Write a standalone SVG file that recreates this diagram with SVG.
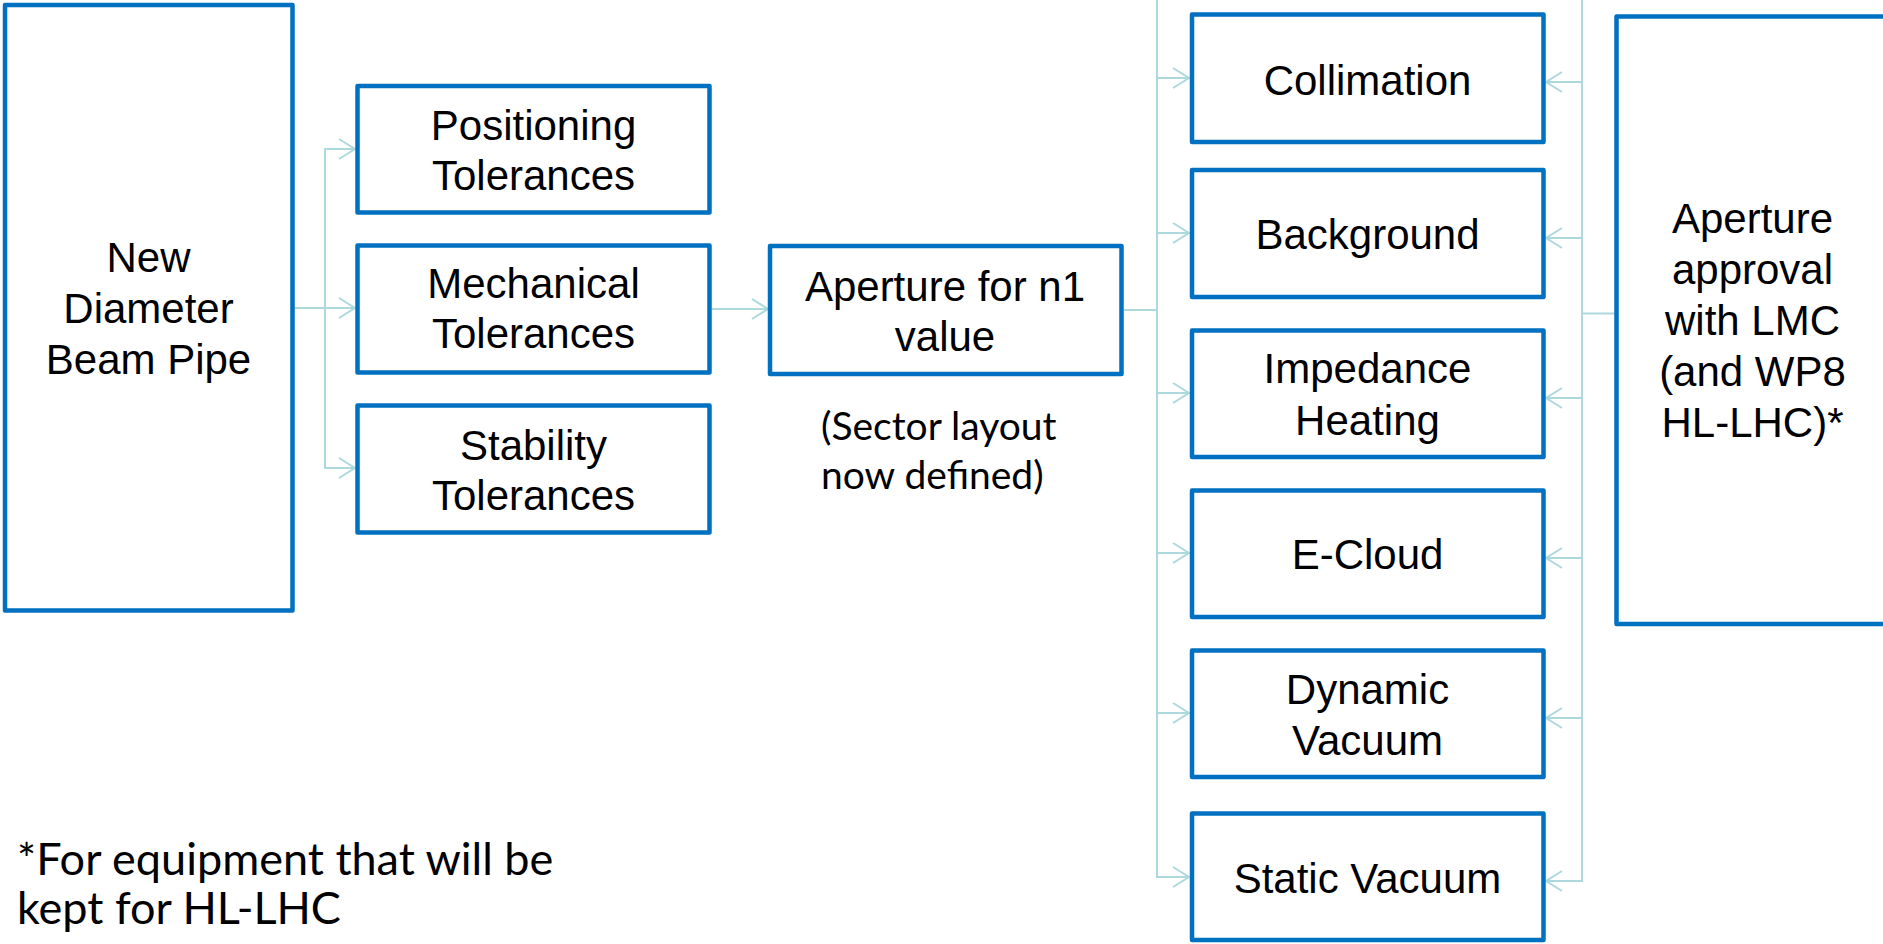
<svg xmlns="http://www.w3.org/2000/svg" width="1883" height="944" viewBox="0 0 1883 944">
<style>
.box{fill:#ffffff;stroke:#0070C0;stroke-width:4.5;stroke-linejoin:round}
.lbl{font-family:"Liberation Sans",Arial,sans-serif;font-size:42px;fill:#000000;text-anchor:middle}
.note{font-family:Lato,"Open Sans",sans-serif;fill:#000000}
.con{fill:none;stroke:#ADD8DC;stroke-width:2}
</style>
<defs>
<marker id="arr" markerUnits="userSpaceOnUse" markerWidth="20" markerHeight="24" viewBox="0 0 20 24" refX="18" refY="12" orient="auto">
<path d="M2,2 L18,12 L2,22" fill="none" stroke="#ADD8DC" stroke-width="2"/>
</marker>
</defs>
<rect width="1883" height="944" fill="#ffffff"/>
<g id="connectors">
<path class="con" d="M292,308 H325 V149 H355" marker-end="url(#arr)"/>
<path class="con" d="M292,308 H355" marker-end="url(#arr)"/>
<path class="con" d="M325,308 V468 H355" marker-end="url(#arr)"/>
<path class="con" d="M712,309 H768" marker-end="url(#arr)"/>
<path class="con" d="M1157,0 V78"/>
<path class="con" d="M1124,310 H1157 V78 H1189" marker-end="url(#arr)"/>
<path class="con" d="M1157,310 V233 H1189" marker-end="url(#arr)"/>
<path class="con" d="M1157,310 V393 H1189" marker-end="url(#arr)"/>
<path class="con" d="M1157,310 V553 H1189" marker-end="url(#arr)"/>
<path class="con" d="M1157,310 V713 H1189" marker-end="url(#arr)"/>
<path class="con" d="M1157,310 V877 H1189" marker-end="url(#arr)"/>
<path class="con" d="M1582,0 V82"/>
<path class="con" d="M1616,313.5 H1582 V82 H1546" marker-end="url(#arr)"/>
<path class="con" d="M1582,313.5 V238 H1546" marker-end="url(#arr)"/>
<path class="con" d="M1582,313.5 V398 H1546" marker-end="url(#arr)"/>
<path class="con" d="M1582,313.5 V558 H1546" marker-end="url(#arr)"/>
<path class="con" d="M1582,313.5 V718 H1546" marker-end="url(#arr)"/>
<path class="con" d="M1582,313.5 V881 H1546" marker-end="url(#arr)"/>
</g>
<g id="new-diameter">
<rect class="box" x="5" y="5" width="287.5" height="605.5"/>
<text class="lbl" x="148.5" y="272">New</text>
<text class="lbl" x="148.5" y="323">Diameter</text>
<text class="lbl" x="148.5" y="374">Beam Pipe</text>
</g>
<g id="positioning">
<rect class="box" x="357.5" y="86" width="352" height="126.5"/>
<text class="lbl" x="533.5" y="140">Positioning</text>
<text class="lbl" x="533.5" y="190">Tolerances</text>
</g>
<g id="mechanical">
<rect class="box" x="357.5" y="245.5" width="352" height="127"/>
<text class="lbl" x="533.5" y="298">Mechanical</text>
<text class="lbl" x="533.5" y="348">Tolerances</text>
</g>
<g id="stability">
<rect class="box" x="357.5" y="405.5" width="352" height="127"/>
<text class="lbl" x="533.5" y="460">Stability</text>
<text class="lbl" x="533.5" y="510">Tolerances</text>
</g>
<g id="aperture-n1">
<rect class="box" x="770" y="246" width="351.5" height="128"/>
<text class="lbl" x="945" y="300.5">Aperture for n1</text>
<text class="lbl" x="945" y="350.5">value</text>
</g>
<g id="sector-note">
<text class="note" font-size="39" x="821" y="440">(Sector layout</text>
<text class="note" font-size="39" x="821" y="489">now defined)</text>
</g>
<g id="collimation">
<rect class="box" x="1192" y="14.5" width="351.5" height="127.5"/>
<text class="lbl" x="1367.5" y="95">Collimation</text>
</g>
<g id="background">
<rect class="box" x="1192" y="170" width="351.5" height="127"/>
<text class="lbl" x="1367.5" y="249">Background</text>
</g>
<g id="impedance">
<rect class="box" x="1192" y="330.5" width="351.5" height="126.5"/>
<text class="lbl" x="1367.5" y="383">Impedance</text>
<text class="lbl" x="1367.5" y="435">Heating</text>
</g>
<g id="ecloud">
<rect class="box" x="1192" y="490.5" width="351.5" height="126.5"/>
<text class="lbl" x="1367.5" y="569">E-Cloud</text>
</g>
<g id="dynamic-vacuum">
<rect class="box" x="1192" y="650.5" width="351.5" height="126.5"/>
<text class="lbl" x="1367.5" y="704">Dynamic</text>
<text class="lbl" x="1367.5" y="755">Vacuum</text>
</g>
<g id="static-vacuum">
<rect class="box" x="1192" y="813.5" width="351.5" height="126.5"/>
<text class="lbl" x="1367.5" y="893">Static Vacuum</text>
</g>
<g id="approval">
<rect class="box" x="1616.5" y="16.5" width="300" height="607.5"/>
<text class="lbl" x="1752.5" y="233">Aperture</text>
<text class="lbl" x="1752.5" y="284">approval</text>
<text class="lbl" x="1752.5" y="335">with LMC</text>
<text class="lbl" x="1752.5" y="386">(and WP8</text>
<text class="lbl" x="1752.5" y="437">HL-LHC)*</text>
</g>
<g id="footnote">
<text class="note" font-size="45" x="17" y="875">*For equipment that will be</text>
<text class="note" font-size="45" x="17" y="924">kept for HL-LHC</text>
</g>
</svg>
